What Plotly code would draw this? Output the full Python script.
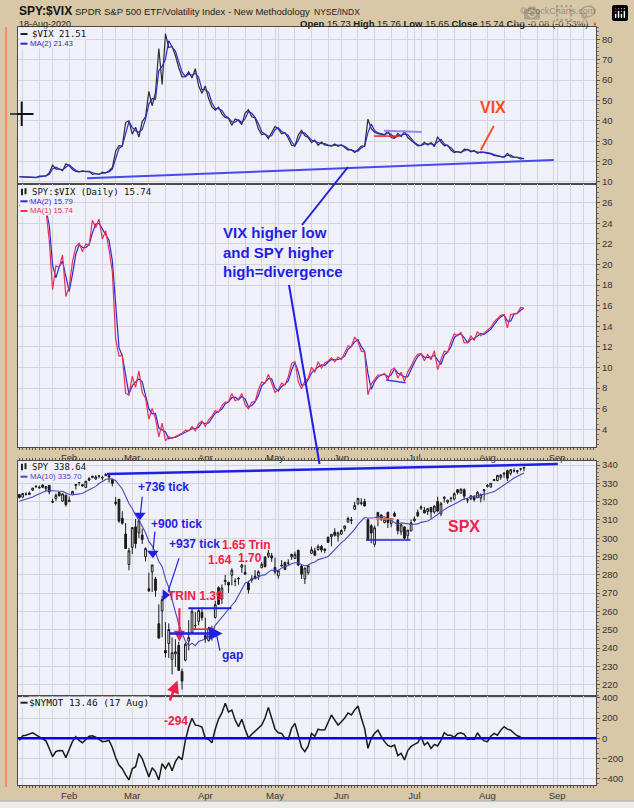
import pandas as pd
import plotly.graph_objects as go

# trading calendar, NYSE holidays taken out
holidays = ['2020-01-20', '2020-02-17', '2020-04-10', '2020-05-25', '2020-07-03', '2020-09-07']
days = [d for d in pd.bdate_range('2020-01-10', '2020-09-30') if d.strftime('%Y-%m-%d') not in holidays]

# SPY daily prices (10 Jan - 18 Aug 2020)
spy_open = [327.3, 325.9, 327.5, 327.3, 329.7, 331.7, 330.9, 332.6, 330.6, 332.4, 323.0, 325.1, 328.4, 323.7, 327.0,
            323.4, 327.5, 332.3, 333.9, 332.8, 331.2, 336.1, 336.8, 335.9, 337.5, 336.5, 337.8, 337.7, 335.5, 323.1, 324.7, 314.2, 305.5, 288.7,
            298.2, 309.5, 306.1, 305.0, 293.1, 275.3, 284.6, 280.7, 256.0, 263.1, 241.2, 245.0, 236.3, 239.3, 242.5, 228.2, 234.4, 244.9, 249.5, 253.3, 255.7, 260.6,
            248.0, 245.2, 250.8, 257.8, 274.2, 268.0, 277.6, 277.1, 281.0, 277.6, 279.2, 285.4, 282.6, 276.7, 278.4, 280.5, 280.7, 285.1, 291.0, 291.5, 291.7,
            285.3, 280.7, 286.6, 288.0, 287.8, 291.1, 290.3, 294.7, 286.1, 279.0, 282.4, 293.1, 294.4, 295.1, 296.8, 294.6, 301.9, 302.1, 304.7, 302.5,
            303.6, 306.6, 310.2, 311.1, 317.2, 320.2, 320.3, 321.4, 311.5, 308.2, 298.0, 315.5, 314.1, 310.0, 314.2, 308.0, 313.5, 309.8, 303.5, 306.2, 301.4, 304.0,
            309.6, 314.2, 316.4, 315.4, 314.6, 316.8, 314.3, 320.1, 313.3, 322.4, 319.8, 321.9, 321.4, 326.5, 324.6, 326.5, 321.0, 321.6, 322.4, 322.1, 321.9, 325.9,
            328.3, 327.9, 331.5, 331.5, 333.3, 335.1, 336.9, 335.4, 336.9, 336.4, 337.9, 338.3]
spy_high = [327.5, 328.0, 328.6, 329.0, 330.9, 332.0, 332.2, 333.0, 332.0, 332.5, 325.1, 327.9, 328.6, 327.9, 327.2,
            326.2, 329.3, 333.1, 334.2, 333.0, 334.8, 337.0, 337.6, 338.1, 337.7, 337.7, 339.1, 338.6, 335.8, 326.0, 324.8, 318.1, 311.6, 297.9,
            309.2, 313.8, 313.1, 308.5, 298.2, 284.2, 288.5, 281.9, 266.7, 271.5, 256.9, 256.2, 248.4, 247.4, 244.5, 229.7, 244.1, 256.4, 262.8, 260.8, 262.4, 263.3,
            257.7, 252.7, 253.3, 267.0, 275.0, 276.0, 281.2, 277.5, 284.9, 279.3, 280.0, 287.3, 286.8, 278.0, 281.0, 283.9, 283.7, 288.3, 291.4, 294.9, 293.3,
            290.7, 283.9, 289.3, 288.5, 289.8, 292.9, 294.0, 295.0, 287.2, 285.1, 286.3, 296.8, 296.2, 297.9, 297.7, 295.6, 302.2, 303.6, 306.8, 305.0,
            306.2, 308.1, 313.2, 313.0, 321.3, 323.4, 323.3, 323.0, 312.2, 309.1, 308.3, 315.6, 314.4, 312.3, 314.4, 310.4, 314.5, 310.5, 307.6, 306.4, 304.6, 310.2,
            311.9, 315.7, 317.9, 317.0, 316.3, 317.1, 317.9, 322.7, 319.8, 323.0, 321.0, 322.6, 325.1, 326.9, 327.2, 327.2, 322.0, 323.4, 323.6, 325.7, 324.4, 326.6,
            329.6, 330.1, 332.4, 334.5, 334.9, 335.8, 337.5, 337.8, 338.3, 337.4, 338.3, 339.1]
spy_low = [325.2, 325.9, 326.8, 327.3, 329.3, 330.9, 330.8, 331.2, 328.9, 327.4, 322.7, 323.8, 326.4, 323.4, 320.7,
           323.2, 327.3, 330.1, 332.3, 331.6, 331.2, 334.9, 336.3, 335.6, 336.3, 335.2, 337.5, 333.9, 331.8, 321.2, 311.7, 310.7, 297.5, 285.5,
           294.5, 297.6, 303.3, 300.0, 290.4, 273.5, 273.5, 270.9, 247.7, 248.5, 237.4, 237.1, 228.0, 232.2, 228.8, 218.3, 233.8, 239.8, 249.1, 251.1, 253.5, 256.2,
           243.9, 244.6, 245.2, 257.3, 264.9, 265.3, 275.5, 271.4, 275.5, 275.0, 275.8, 282.4, 281.4, 271.0, 276.9, 278.9, 278.5, 285.0, 285.4, 290.4, 288.4,
           281.5, 279.1, 285.9, 283.8, 286.4, 289.5, 289.9, 286.0, 279.0, 276.2, 281.3, 292.7, 292.0, 294.5, 293.6, 293.1, 298.7, 296.9, 302.2, 299.5,
           303.1, 305.1, 309.9, 309.1, 317.0, 319.6, 319.4, 319.5, 300.0, 298.6, 296.7, 307.9, 310.8, 309.5, 305.6, 306.0, 311.6, 302.1, 301.7, 299.4, 298.9, 303.8,
           309.0, 311.5, 315.4, 313.9, 312.7, 310.7, 313.4, 314.1, 312.0, 319.5, 318.8, 319.9, 320.6, 323.9, 324.5, 321.0, 319.2, 320.8, 320.0, 322.1, 319.6, 320.6,
           327.7, 327.9, 331.2, 331.1, 332.0, 333.0, 331.2, 334.3, 335.9, 335.2, 336.9, 336.6]
spy_close = [325.71, 327.95, 327.45, 328.19, 330.92, 331.95, 331.30, 331.34, 331.72, 328.77, 323.50, 326.89, 326.62, 327.68, 321.73,
             324.12, 329.06, 332.86, 333.98, 332.20, 334.68, 335.26, 337.42, 337.06, 337.60, 336.73, 338.34, 336.95, 333.48, 322.42, 312.65, 311.50, 297.51, 296.26,
             309.09, 300.24, 312.86, 302.46, 297.46, 274.23, 288.42, 274.36, 248.11, 269.32, 239.85, 252.80, 240.00, 240.51, 228.80, 222.95, 243.15, 246.79, 261.20, 253.42, 261.65, 257.75,
             246.15, 251.83, 248.19, 264.86, 265.13, 274.03, 278.20, 275.66, 283.79, 277.76, 279.10, 286.64, 281.59, 273.04, 279.10, 279.08, 282.97, 287.05, 285.73, 293.21, 290.48,
             282.79, 283.57, 286.19, 284.25, 287.68, 292.44, 292.50, 286.67, 281.60, 284.97, 286.28, 295.00, 291.97, 296.93, 294.88, 295.44, 299.08, 303.53, 302.97, 304.32,
             305.55, 308.08, 312.18, 311.36, 319.34, 323.20, 320.79, 319.00, 300.61, 304.21, 307.05, 312.96, 311.66, 311.78, 308.64, 310.62, 312.05, 304.09, 307.35, 300.05, 304.46, 308.36,
             310.52, 312.23, 317.05, 313.78, 316.18, 314.38, 317.59, 314.84, 318.92, 321.85, 320.79, 321.72, 324.32, 325.01, 326.86, 322.96, 320.88, 323.22, 321.17, 325.12, 323.96, 326.52,
             328.79, 330.06, 332.11, 334.33, 334.57, 335.57, 332.80, 337.44, 336.83, 336.84, 337.91, 338.64]
# closes 27 Dec - 9 Jan, needed to start the MA(10) at the left edge
spy_close_prior = [322.86, 321.08, 321.86, 324.87, 322.41, 323.64, 322.73, 324.45, 326.65]

# StockCharts plots dividend adjusted prices
div_dates = ['2020-03-20', '2020-06-19']
div_factor = [0.99386, 0.99557]

vix = [12.56, 12.32, 12.39, 12.42, 12.32, 12.10, 12.85, 12.91, 12.98, 14.56, 18.23, 16.28, 16.39, 15.49, 18.84,
       17.97, 16.05, 15.15, 14.96, 15.47, 15.04, 15.18, 13.74, 14.15, 13.68, 14.83, 14.38, 15.56, 17.08, 25.03, 27.85, 27.56, 39.16, 40.11,
       33.42, 36.82, 31.99, 39.62, 41.94, 54.46, 47.30, 53.90, 75.47, 57.83, 82.69, 75.91, 76.45, 72.00, 66.04, 61.59, 61.67, 63.95, 61.00, 65.54, 57.08, 53.54,
       57.06, 50.91, 46.80, 45.24, 46.70, 43.35, 41.67, 41.17, 37.76, 40.84, 40.11, 38.15, 43.83, 45.41, 41.98, 41.38, 35.93, 33.29, 33.57, 31.23, 34.15,
       37.19, 35.97, 33.61, 34.12, 31.44, 27.98, 27.57, 33.04, 35.28, 32.61, 31.89, 29.30, 30.53, 27.99, 29.53, 28.16, 28.01, 27.62, 28.59, 27.51,
       28.23, 26.84, 25.66, 25.81, 24.52, 25.81, 27.57, 27.57, 40.79, 36.09, 34.40, 33.67, 33.47, 32.94, 35.12, 31.77, 31.37, 33.84, 32.22, 34.73, 31.78, 30.43,
       28.62, 27.68, 27.94, 29.43, 28.08, 29.26, 27.29, 32.19, 29.52, 27.76, 28.00, 25.68, 24.46, 24.84, 24.32, 26.08, 25.84, 24.74, 25.44, 24.10, 24.76, 24.46,
       24.28, 23.76, 23.00, 22.65, 22.21, 22.14, 24.03, 22.28, 22.13, 22.05, 21.35, 21.51]
vix_prior = 12.54

# NYSE McClellan oscillator (ends 17 Aug)
nymot = [-20, 26, 30, 40, 55, 35, 15, -10, -25, -100, -181, -130, -120, -122, -190,
         -110, -30, 16, -20, -44, -15, 20, 25, 12, -10, -33, -28, -20, -90, -190, -263, -300, -360, -410,
         -300, -280, -150, -200, -290, -380, -290, -330, -410, -250, -300, -240, -320, -230, -180, -210, -20, 110, 197, 130, 125, 110,
         0, -10, -44, 92, 190, 250, 345, 260, 279, 180, 115, 187, 90, 5, 40, 70, 95, 130, 200, 305, 200,
         90, 55, 48, 0, -10, 100, 147, 30, -90, -132, -75, 48, 20, 90, 81, 85, 160, 230, 180, 131,
         164, 200, 250, 230, 280, 319, 200, 98, -99, 0, 50, 81, 20, -33, -70, -82, -66, -170, -148, -214, -120, -80,
         -60, -44, 16, -66, -40, -100, -60, -75, -20, 55, 30, 30, 10, 45, 55, 40, -10, -5, -10, 55, 5, -25,
         -33, 20, 48, 30, 80, 115, 90, 81, 50, 25, 13.46]

n = len(spy_close)
xi = list(range(n))

def adj_factor(d):
    f = 1.0
    for dd, k in zip(div_dates, div_factor):
        if d < pd.Timestamp(dd):
            f *= k
    return f

adj = [adj_factor(d) for d in days[:n]]
o_adj = [v * a for v, a in zip(spy_open, adj)]
h_adj = [v * a for v, a in zip(spy_high, adj)]
l_adj = [v * a for v, a in zip(spy_low, adj)]
c_adj = [v * a for v, a in zip(spy_close, adj)]
prior_adj = [v * div_factor[0] * div_factor[1] for v in spy_close_prior]

spy_ma10 = pd.Series(prior_adj + c_adj).rolling(10).mean().tolist()[len(prior_adj):]
vix_ma2 = pd.Series([vix_prior] + vix).rolling(2).mean().tolist()[1:]
ratio = [c / v for c, v in zip(c_adj, vix)]
ratio_prior = prior_adj[-1] / vix_prior
ratio_ma2 = pd.Series([ratio_prior] + ratio).rolling(2).mean().tolist()[1:]

# pixel box of the plotting area inside the 634x808 page
L, R, T, B = 18, 596, 27, 785
def px(x):
    return (x - L) / (R - L)
def py(y):
    return (B - y) / (B - T)

TAN = '#d8c8a8'
PLOTBG = '#eff0f8'
GRID = '#d3d4de'
FRAME = '#4a4a4a'
BLUE = '#1f1fe6'
RED = '#ee1f4a'
ORANGE = '#ff4a1c'
SANS = 'Liberation Sans'
MONO = 'DejaVu Sans Mono'

fig = go.Figure()

# panel 1: VIX
fig.add_trace(go.Scatter(x=xi, y=vix, mode='lines', line=dict(color='#2e2e2e', width=1.2), xaxis='x', yaxis='y'))
fig.add_trace(go.Scatter(x=xi, y=vix_ma2, mode='lines', line=dict(color='#2a2ad0', width=1.2), xaxis='x', yaxis='y'))
# panel 2: SPY:$VIX
fig.add_trace(go.Scatter(x=xi, y=ratio_ma2, mode='lines', line=dict(color='#2a2ad0', width=1.2), xaxis='x2', yaxis='y2'))
fig.add_trace(go.Scatter(x=xi, y=ratio, mode='lines', line=dict(color='#e8305a', width=1.2), xaxis='x2', yaxis='y2'))
# panel 3: SPY candles + MA(10)
fig.add_trace(go.Candlestick(x=xi, open=o_adj, high=h_adj, low=l_adj, close=c_adj, xaxis='x3', yaxis='y3',
                             whiskerwidth=0,
                             increasing=dict(line=dict(color='#1a1a1a', width=1), fillcolor='#ffffff'),
                             decreasing=dict(line=dict(color='#1a1a1a', width=1), fillcolor='#1a1a1a')))
fig.add_trace(go.Scatter(x=xi, y=spy_ma10, mode='lines', line=dict(color='#4848c0', width=1.1), xaxis='x3', yaxis='y3'))
# panel 4: $NYMOT
fig.add_trace(go.Scatter(x=xi[:len(nymot)], y=nymot, mode='lines', line=dict(color='#1a1a1a', width=1.5), xaxis='x4', yaxis='y4'))

# tick markers drawn on the SPY panel (+736 / +900 / +937)
fig.add_trace(go.Scatter(x=[36.3, 40.2], y=[312.5, 291.8], mode='markers', xaxis='x3', yaxis='y3',
                         marker=dict(symbol='triangle-down', size=10, color=BLUE)))
fig.add_trace(go.Scatter(x=[43.9], y=[269.0], mode='markers', xaxis='x3', yaxis='y3',
                         marker=dict(symbol='triangle-right', size=10, color=BLUE)))

# ---- axes ----
month_idx = [i for i in range(1, len(days)) if days[i].month != days[i - 1].month]
week_idx = [i for i in range(1, len(days)) if days[i].weekday() < days[i - 1].weekday()]
grid_idx = sorted(set(month_idx + week_idx))
day_ticks = list(range(0, 174))
day_text = [days[i].strftime('%b') if i in month_idx else '' for i in day_ticks]
tick_font = dict(family=SANS, size=9.5, color='#333333')

def x_axis(anchor, labels, ticks, side='bottom'):
    return dict(anchor=anchor, domain=[0, 1], range=[-0.42, 173.7], side=side,
                tickmode='array', tickvals=day_ticks, ticktext=day_text, showticklabels=labels,
                ticks=ticks, ticklen=2, tickwidth=1, tickcolor='#555555', showgrid=False, zeroline=False,
                showline=True, linecolor=FRAME, linewidth=1, mirror=True, tickfont=tick_font,
                minor=dict(tickmode='array', tickvals=grid_idx, showgrid=True, gridcolor=GRID, gridwidth=1, ticks=''),
                rangeslider=dict(visible=False), fixedrange=True, automargin=False)

def y_axis(anchor, domain, rng, tickvals, minor_dtick):
    return dict(anchor=anchor, domain=domain, range=rng, side='right', tickmode='array', tickvals=tickvals,
                ticks='outside', ticklen=3, tickcolor='#555555', showgrid=True, gridcolor=GRID, gridwidth=1,
                zeroline=False, showline=True, linecolor=FRAME, linewidth=1, mirror=True, tickfont=tick_font,
                minor=dict(tickmode='linear', tick0=0, dtick=minor_dtick, ticks='outside', ticklen=2,
                           tickcolor='#777777', showgrid=False),
                fixedrange=True, automargin=False)

fig.update_layout(
    width=634, height=808, autosize=False,
    margin=dict(l=L, r=634 - R, t=T, b=808 - B),
    paper_bgcolor=TAN, plot_bgcolor=PLOTBG,
    showlegend=False, hovermode=False, boxgap=0.25,
    xaxis=x_axis('y', False, ''),
    xaxis2=x_axis('y2', True, 'outside'),
    xaxis3=x_axis('y3', False, 'outside', side='top'),
    xaxis4=x_axis('y4', True, 'outside'),
    yaxis=y_axis('x', [py(184), 1], [9.0, 86.0], [10, 20, 30, 40, 50, 60, 70, 80], 2),
    yaxis2=y_axis('x2', [py(447), py(184)], [2.28, 27.82], list(range(4, 27, 2)), 0.5),
    yaxis3=y_axis('x3', [py(696), py(461)], [213.8, 342.2], list(range(220, 341, 10)), 2),
    yaxis4=y_axis('x4', [0, py(696)], [-460, 417], [-400, -200, 0, 200, 400], 50),
)

shapes = []
annotations = []

def seg(x0, y0, x1, y1, color, width, xref='paper', yref='paper'):
    shapes.append(dict(type='line', xref=xref, yref=yref, x0=x0, y0=y0, x1=x1, y1=y1,
                       line=dict(color=color, width=width)))

def text(x, y, s, color, size, family=SANS, xref='paper', yref='paper', xanchor='center', bold=False, bg=None):
    a = dict(x=x, y=y, xref=xref, yref=yref, text=f'<b>{s}</b>' if bold else s,
             showarrow=False, xanchor=xanchor, yanchor='middle', borderpad=0,
             font=dict(family=family, size=size, color=color))
    if bg:
        a.update(bgcolor=bg)
    annotations.append(a)

def arrow(x, y, ax, ay, color, width, xref, yref, axref, ayref, size=1.1):
    annotations.append(dict(x=x, y=y, ax=ax, ay=ay, xref=xref, yref=yref, axref=axref, ayref=ayref,
                            text='', showarrow=True, arrowhead=2, arrowsize=size, arrowwidth=width,
                            arrowcolor=color))

# header
text(px(18), py(11), 'SPY:$VIX', '#111111', 12, xanchor='left', bold=True)
text(px(74), py(11.5), 'SPDR S&P 500 ETF/Volatility Index - New Methodology', '#222222', 9.5, xanchor='left')
text(px(313), py(12), 'NYSE/INDX', '#222222', 8.5, xanchor='left')
text(px(596), py(10.5), '©StockCharts.com', '#555555', 9, xanchor='right')
text(px(18), py(23.5), '18-Aug-2020', '#222222', 9, xanchor='left')
text(px(589), py(23.5), '<b>Open</b> 15.73 <b>High</b> 15.76 <b>Low</b> 15.65 <b>Close</b> 15.74 <b>Chg</b> -0.08 (-0.53%)',
     '#222222', 9.5, xanchor='right')
text(px(595), py(23.5), '▼', '#e0203c', 6)

# in-chart legends
def leg_dash(y, color):
    shapes.append(dict(type='rect', xref='paper', yref='paper', x0=px(19.5), x1=px(29), y0=py(y + 5), y1=py(y - 5),
                       fillcolor=PLOTBG, line=dict(width=0)))
    seg(px(20.5), py(y), px(27.5), py(y), color, 2)

def leg_icon(y):
    shapes.append(dict(type='rect', xref='paper', yref='paper', x0=px(19.5), x1=px(29), y0=py(y + 5), y1=py(y - 5),
                       fillcolor=PLOTBG, line=dict(width=0)))
    shapes.append(dict(type='rect', xref='paper', yref='paper', x0=px(21), x1=px(23), y0=py(y + 3.5), y1=py(y - 3),
                       fillcolor='#222222', line=dict(width=0)))
    shapes.append(dict(type='rect', xref='paper', yref='paper', x0=px(24.5), x1=px(26.5), y0=py(y + 2.5), y1=py(y - 3.5),
                       fillcolor='#222222', line=dict(width=0)))

leg_dash(34, '#222222')
text(px(31), py(34), f'$VIX {vix[-1]:.2f}', '#111111', 9, family=MONO, xanchor='left', bg=PLOTBG)
leg_dash(43.7, '#2a2ad0')
text(px(29), py(43.7), f'MA(2) {vix_ma2[-1]:.2f}', '#2a2ad0', 7.8, xanchor='left', bg=PLOTBG)

leg_icon(191.7)
text(px(31), py(191.7), f'SPY:$VIX (Daily) {ratio[-1]:.2f}', '#111111', 9, family=MONO, xanchor='left', bg=PLOTBG)
leg_dash(201.3, '#2a2ad0')
text(px(29), py(201.3), f'MA(2) {ratio_ma2[-1]:.2f}', '#2a2ad0', 7.8, xanchor='left', bg=PLOTBG)
leg_dash(211, '#e8305a')
text(px(29), py(211), f'MA(1) {ratio[-1]:.2f}', '#e8305a', 7.8, xanchor='left', bg=PLOTBG)

leg_icon(466.7)
text(px(31), py(466.7), f'SPY {spy_close[-1]:.2f}', '#111111', 9, family=MONO, xanchor='left', bg=PLOTBG)
leg_dash(476.7, '#4848c0')
text(px(29), py(476.7), f'MA(10) {spy_ma10[-1]:.2f}', '#4848c0', 7.8, xanchor='left', bg=PLOTBG)

leg_dash(702.7, '#222222')
text(px(28), py(702.7), f'$NYMOT {nymot[-1]:.2f} (17 Aug)', '#111111', 9.5, family=MONO, xanchor='left', bg=PLOTBG)

# panel 1 notes
seg(20.4, 11.8, 161.0, 20.8, '#4848f0', 2, 'x', 'y')
text(142.7, 46.3, 'VIX', ORANGE, 16, xref='x', yref='y', bold=True)
seg(142.9, 37.5, 139.0, 25.7, ORANGE, 2, 'x', 'y')
seg(109.8, 35.1, 121.2, 34.5, '#8c8cf5', 2, 'x', 'y')
seg(106.8, 32.5, 114.6, 32.5, '#f02020', 1.5, 'x', 'y')

# divergence note crossing panels
seg(px(348), py(167), px(302), py(225), BLUE, 2)
seg(px(289), py(285), px(319.5), py(464), BLUE, 2)
text(px(221.5), py(233), 'VIX higher low', BLUE, 15, xanchor='left', bold=True)
text(px(221.5), py(252.5), 'and SPY higher', BLUE, 15, xanchor='left', bold=True)
text(px(221.5), py(271.5), 'high=divergence', BLUE, 15, xanchor='left', bold=True)

# panel 2 note
seg(110.4, 8.79, 116.4, 8.53, '#4040f0', 1.5, 'x2', 'y2')

# panel 3 notes
seg(26.4, 335.1, 162.2, 340.5, BLUE, 2.5, 'x3', 'y3')
text(43.5, 328.2, '+736 tick', BLUE, 12, xref='x3', yref='y3', bold=True)
seg(37.0, 322.7, 36.5, 313.8, BLUE, 1.2, 'x3', 'y3')
text(47.3, 307.7, '+900 tick', BLUE, 12, xref='x3', yref='y3', bold=True)
seg(40.8, 303.6, 40.3, 293.6, BLUE, 1.2, 'x3', 'y3')
text(52.6, 296.9, '+937 tick', BLUE, 12, xref='x3', yref='y3', bold=True)
seg(48.1, 289.1, 44.8, 270.8, BLUE, 1.2, 'x3', 'y3')
text(53.0, 268.6, 'TRIN 1.39', RED, 12, xref='x3', yref='y3', bold=True)
arrow(48.2, 243.5, 48.2, 262.6, RED, 2, 'x3', 'y3', 'x3', 'y3')
arrow(61.2, 248.0, 44.8, 248.0, BLUE, 2.5, 'x3', 'y3', 'x3', 'y3')
seg(50.9, 261.7, 63.9, 261.7, BLUE, 2, 'x3', 'y3')
seg(52.2, 250.3, 58.9, 250.3, '#f02020', 1.5, 'x3', 'y3')
text(64.2, 236.2, 'gap', BLUE, 12, xref='x3', yref='y3', bold=True)
seg(59.4, 247.2, 60.4, 238.6, BLUE, 1.2, 'x3', 'y3')
text(68.5, 296.3, '1.65 Trin', RED, 12, xref='x3', yref='y3', bold=True)
text(60.3, 288.1, '1.64', RED, 12, xref='x3', yref='y3', bold=True)
text(69.4, 289.1, '1.70', RED, 12, xref='x3', yref='y3', bold=True)
text(133.9, 306.3, 'SPX', RED, 16, xref='x3', yref='y3', bold=True)
seg(104.4, 299.1, 117.8, 299.1, BLUE, 1.5, 'x3', 'y3')
seg(107.4, 310.5, 112.8, 310.5, '#ff7040', 1.5, 'x3', 'y3')
arrow(px(177.5), py(680.5), -8.2, 21.5, RED, 2.5, 'paper', 'paper', 'pixel', 'pixel', size=1)

# panel 4 notes
shapes.append(dict(type='line', xref='x4 domain', yref='y4', x0=0, x1=1, y0=0, y1=0,
                   line=dict(color='#0000ff', width=2.5)))
text(47.3, 170, '-294', RED, 12, xref='x4', yref='y4', bold=True)

# page decorations: orange left rule, cursor cross, bottom strip
seg(px(6), py(27), px(6), py(787), '#f0906a', 2)
seg(px(21.7), py(101.5), px(21.7), py(126), '#111111', 2)
seg(px(10), py(114), px(17), py(114), '#3a4a60', 2)
seg(px(17), py(114), px(33.5), py(114), '#111111', 2)
shapes.append(dict(type='rect', xref='paper', yref='paper', x0=px(0), x1=px(634), y0=py(801), y1=py(809),
                   fillcolor='#ececec', line=dict(width=0)))
seg(px(0), py(801), px(634), py(801), '#a8a8a8', 1)

fig.update_layout(shapes=shapes, annotations=annotations)
# page body margin would push the 634x808 figure off the window
fig.write_html('out.html', post_script="document.body.style.margin='0';document.body.style.overflow='hidden';")
